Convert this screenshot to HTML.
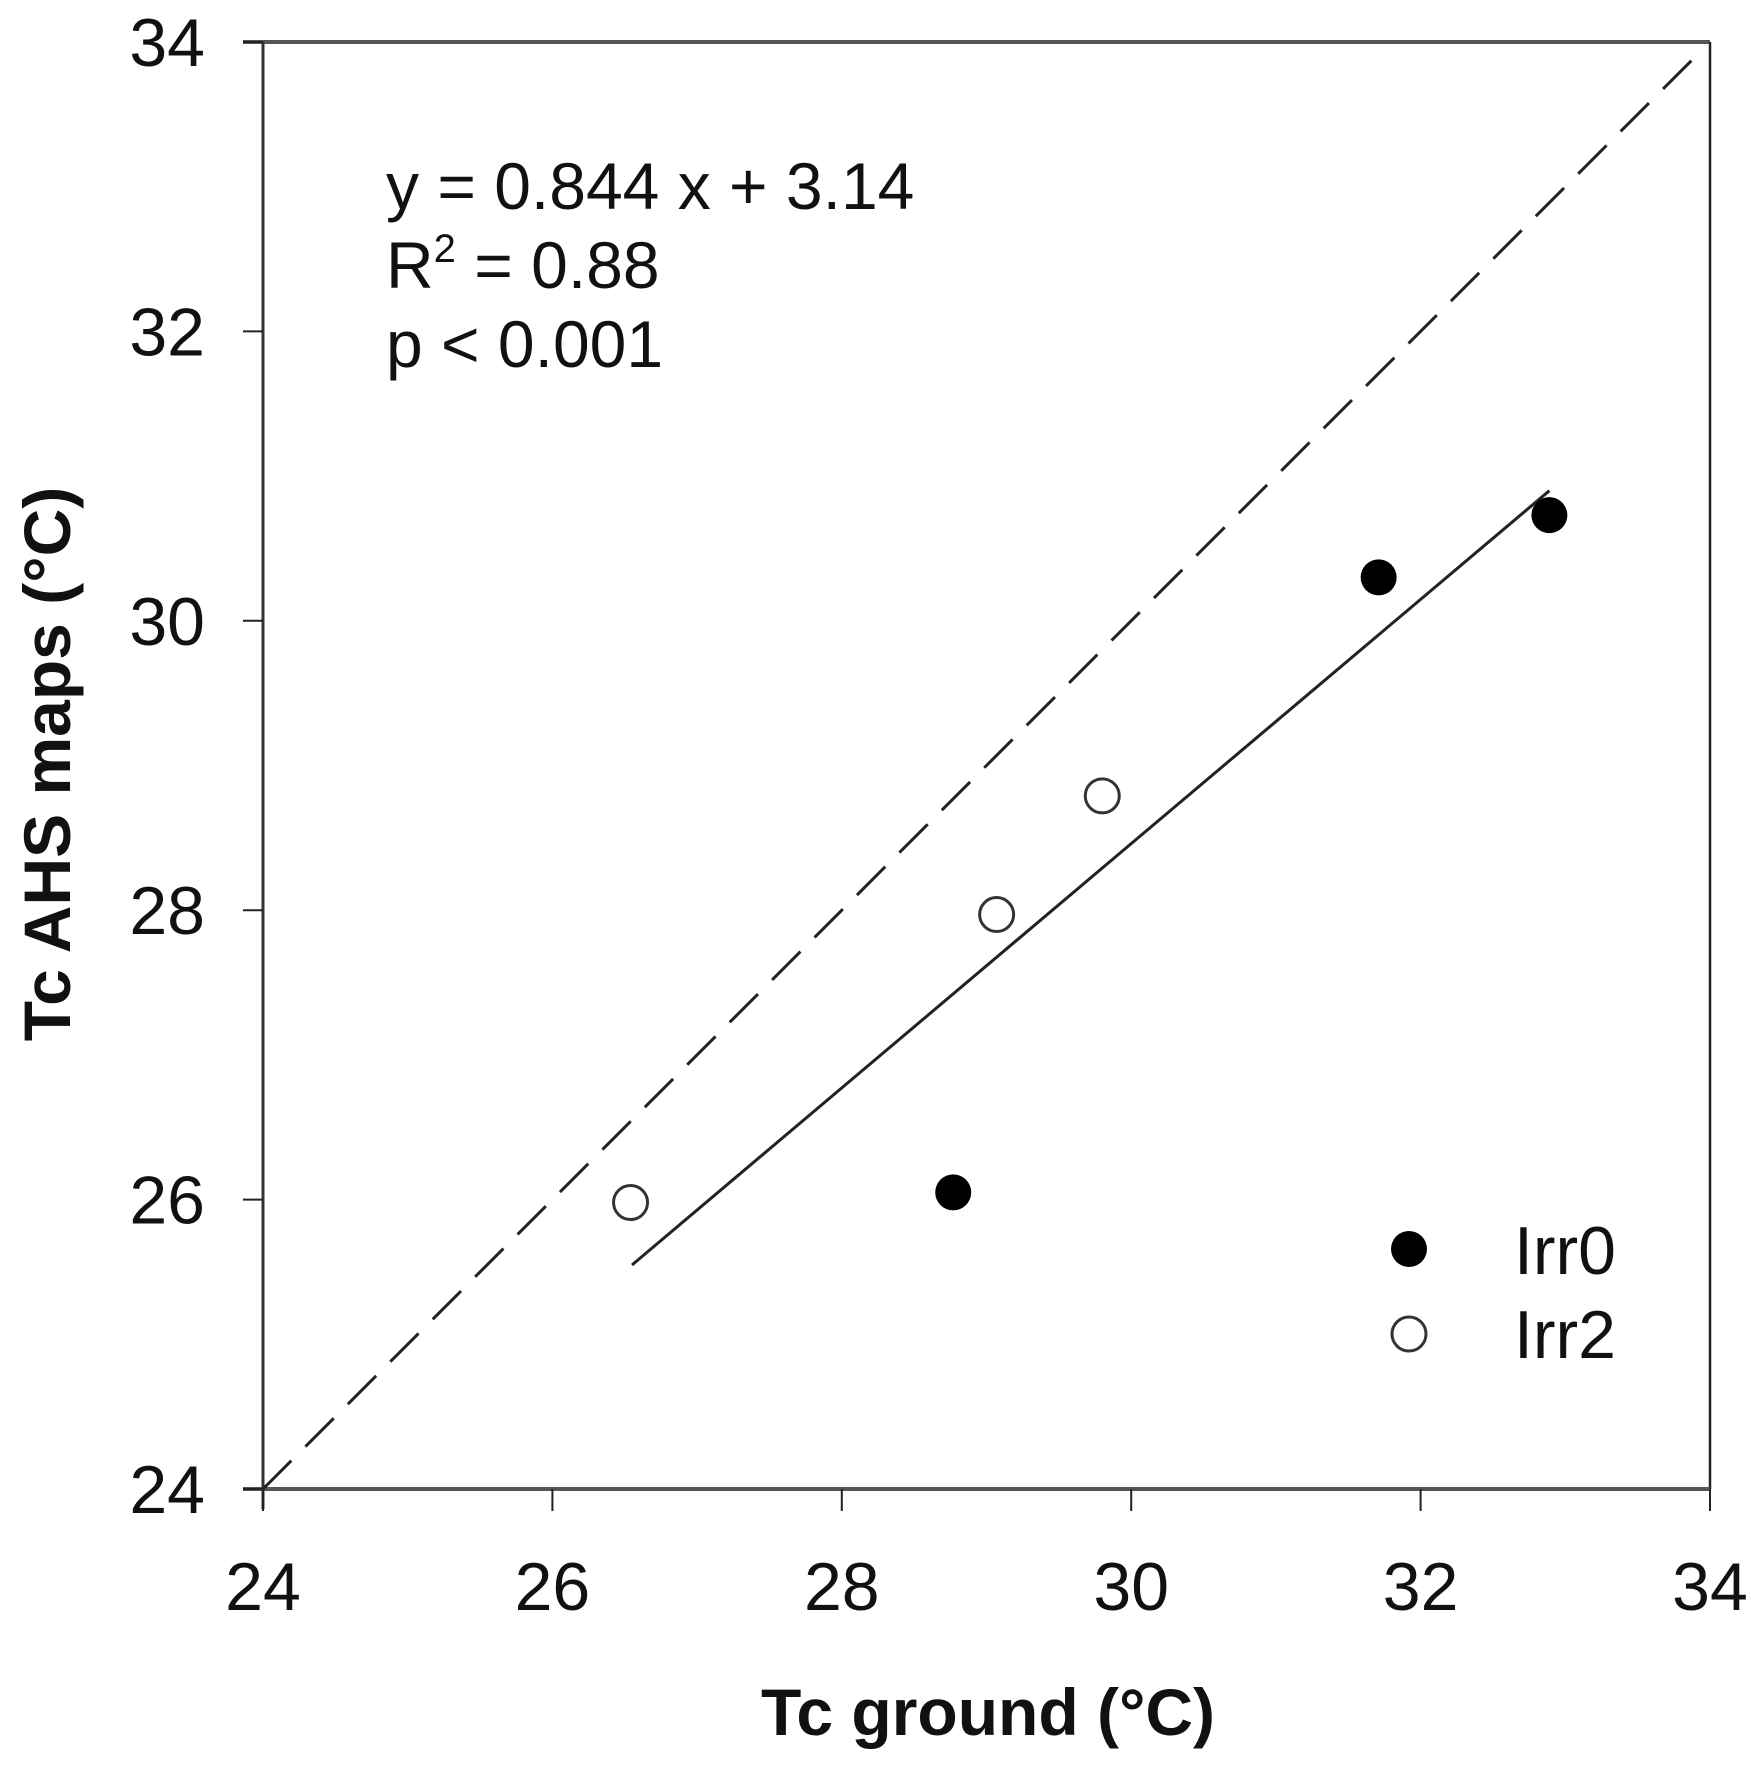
<!DOCTYPE html>
<html><head><meta charset="utf-8"><style>
html,body{margin:0;padding:0;background:#fff;}
svg{display:block;font-family:"Liberation Sans",Arial,sans-serif;}
</style></head><body>
<svg id="chart" width="1751" height="1769" viewBox="0 0 1751 1769">
<g id="frame"></g>
<g id="axes"></g>
<g id="lines"></g>
<g id="points"></g>
<g font-size="66" fill="#111">
<text x="386" y="209">y = 0.844 x + 3.14</text>
<text x="386" y="288">R<tspan dy="-26" font-size="40">2</tspan><tspan dy="26"> = 0.88</tspan></text>
<text x="386" y="367">p &lt; 0.001</text>
</g>
<g>
<circle cx="1409" cy="1249" r="18" fill="#000"/>
<text x="1514" y="1274" font-size="68" fill="#111">Irr0</text>
<circle cx="1409" cy="1334" r="17" fill="#fff" stroke="#333" stroke-width="3"/>
<text x="1514" y="1358" font-size="68" fill="#111">Irr2</text>
</g>
<text x="988" y="1735" text-anchor="middle" font-size="66" font-weight="bold" fill="#111">Tc ground (°C)</text>
<text transform="translate(70,764) rotate(-90)" x="0" y="0" text-anchor="middle" font-size="66" font-weight="bold" fill="#111">Tc AHS maps (°C)</text>
</svg>
<script>
const xTicks = [24, 26, 28, 30, 32, 34];
const yTicks = [24, 26, 28, 30, 32, 34];
const irr0X = [28.77, 31.71, 32.89];
const irr0Y = [26.05, 30.30, 30.73];
const irr2X = [26.54, 29.07, 29.80];
const irr2Y = [25.98, 27.97, 28.79];
const slope = 0.844;
const intercept = 3.14;
const fitRange = [26.55, 32.89];
const oneToOneRange = [24, 33.9];

const NS = "http://www.w3.org/2000/svg";
const X0 = 263, X1 = 1710, Y0 = 1489, Y1 = 42, DMIN = 24, DMAX = 34;
function sx(v){ return X0 + (v - DMIN) / (DMAX - DMIN) * (X1 - X0); }
function sy(v){ return Y0 - (v - DMIN) / (DMAX - DMIN) * (Y0 - Y1); }
function mk(tag, attrs, parent){
  const e = document.createElementNS(NS, tag);
  for (const k in attrs) e.setAttribute(k, attrs[k]);
  parent.appendChild(e);
  return e;
}
const frame = document.getElementById('frame');
let el;
el = mk('line', {x1:X0-20, y1:Y1, x2:X1, y2:Y1, stroke:'#555', 'stroke-width':4}, frame);


el = mk('line', {x1:X1, y1:Y1, x2:X1, y2:Y0, stroke:'#222', 'stroke-width':2.5}, frame);


el = mk('line', {x1:X0, y1:Y1, x2:X0, y2:Y0+20, stroke:'#333', 'stroke-width':3}, frame);


el = mk('line', {x1:X0-20, y1:Y0, x2:X1, y2:Y0, stroke:'#555', 'stroke-width':4}, frame);



const axes = document.getElementById('axes');
xTicks.forEach(t => {
  const tk = mk('line', {x1:sx(t), y1:Y0, x2:sx(t), y2:Y0+22, stroke:'#222', 'stroke-width':2}, axes);
  
  
  const tx = mk('text', {x:sx(t), y:1610, 'text-anchor':'middle', 'font-size':68, fill:'#111'}, axes);
  tx.textContent = t;
  
  
});
yTicks.forEach(t => {
  const tk = mk('line', {x1:X0-20, y1:sy(t), x2:X0, y2:sy(t), stroke:'#222', 'stroke-width':2}, axes);
  
  
  const tx = mk('text', {x:205, y:sy(t)+24, 'text-anchor':'end', 'font-size':68, fill:'#111'}, axes);
  tx.textContent = t;
  
  
});

const lines = document.getElementById('lines');
el = mk('line', {x1:sx(oneToOneRange[0]), y1:sy(oneToOneRange[0]), x2:sx(oneToOneRange[1]), y2:sy(oneToOneRange[1]), stroke:'#222', 'stroke-width':3, 'stroke-dasharray':'40 20'}, lines);


el = mk('line', {x1:sx(fitRange[0]), y1:sy(slope*fitRange[0]+intercept), x2:sx(fitRange[1]), y2:sy(slope*fitRange[1]+intercept), stroke:'#222', 'stroke-width':3}, lines);



const pts = document.getElementById('points');
irr0X.forEach((x, i) => {
  const c = mk('circle', {cx:sx(x), cy:sy(irr0Y[i]), r:18, fill:'#000'}, pts);
  
  
});
irr2X.forEach((x, i) => {
  const c = mk('circle', {cx:sx(x), cy:sy(irr2Y[i]), r:17, fill:'#fff', stroke:'#333', 'stroke-width':3}, pts);
  
  
});
</script>
</body></html>
